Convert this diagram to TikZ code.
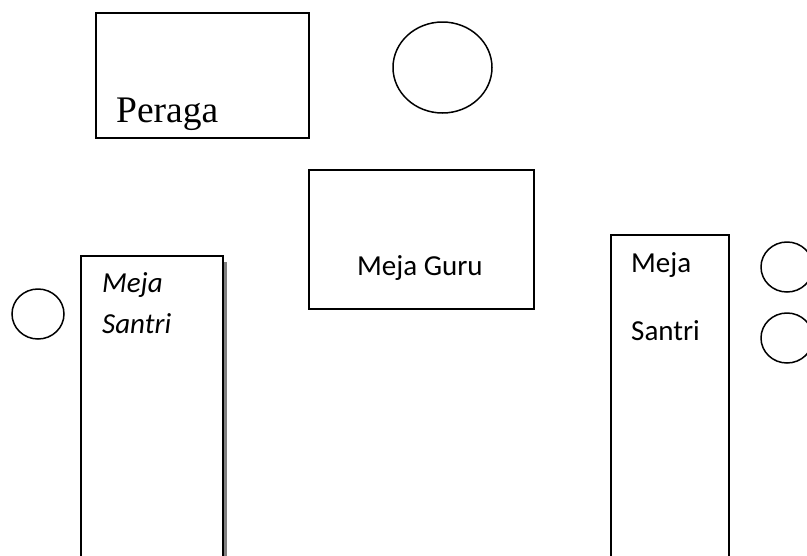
\documentclass[tikz,border=0pt]{standalone}
\usepackage{fontspec}
\setmainfont{Liberation Serif}
\newfontfamily\calib{Carlito}
\usetikzlibrary{shapes.geometric}
\begin{document}
\begin{tikzpicture}[x=1pt,y=-1pt,
  furn/.style={draw=black,line width=1.5pt,fill=white,inner sep=0pt,anchor=north west},
  seat/.style={draw=black,line width=1.5pt,ellipse,inner sep=0pt},
  lbl/.style={anchor=base west,inner sep=0pt,font=\calib\fontsize{29}{32}\selectfont},
  ilbl/.style={lbl,font=\calib\itshape\fontsize{29}{32}\selectfont}]
\clip (0,0) rectangle (807,555);
\fill[white] (0,0) rectangle (807,555);
% Peraga
\node[furn,minimum width=213pt,minimum height=125pt] (peraga) at (95,12) {};
\node[anchor=base west,inner sep=0pt,font=\fontsize{37.5}{40}\selectfont] (tperaga) at (116,122) {Peraga};
% top circle
\node[seat,minimum width=99pt,minimum height=91pt] (c1) at (442.5,67.5) {};
% Meja Guru
\node[furn,minimum width=225pt,minimum height=139pt] (guru) at (308,169) {};
\node[lbl] (tguru) at (357,275) {Meja Guru};
% left table with shadow
\fill[black!50] (222,262) rectangle (227,560);
\node[furn,minimum width=142pt,minimum height=320pt] (lmeja) at (80,255) {};
\node[ilbl] (tl1) at (102,292) {Meja};
\node[ilbl] (tl2) at (102,333) {Santri};
\node[seat,minimum width=52pt,minimum height=50pt] (cl) at (38,314) {};
% right table
\node[furn,minimum width=118pt,minimum height=340pt] (rmeja) at (610,234) {};
\node[lbl] (tr1) at (631,272) {Meja};
\node[lbl] (tr2) at (631,340) {Santri};
\node[seat,minimum width=52pt,minimum height=50pt] (cr1) at (787,267) {};
\node[seat,minimum width=52pt,minimum height=50pt] (cr2) at (787,338) {};
\end{tikzpicture}
\end{document}
